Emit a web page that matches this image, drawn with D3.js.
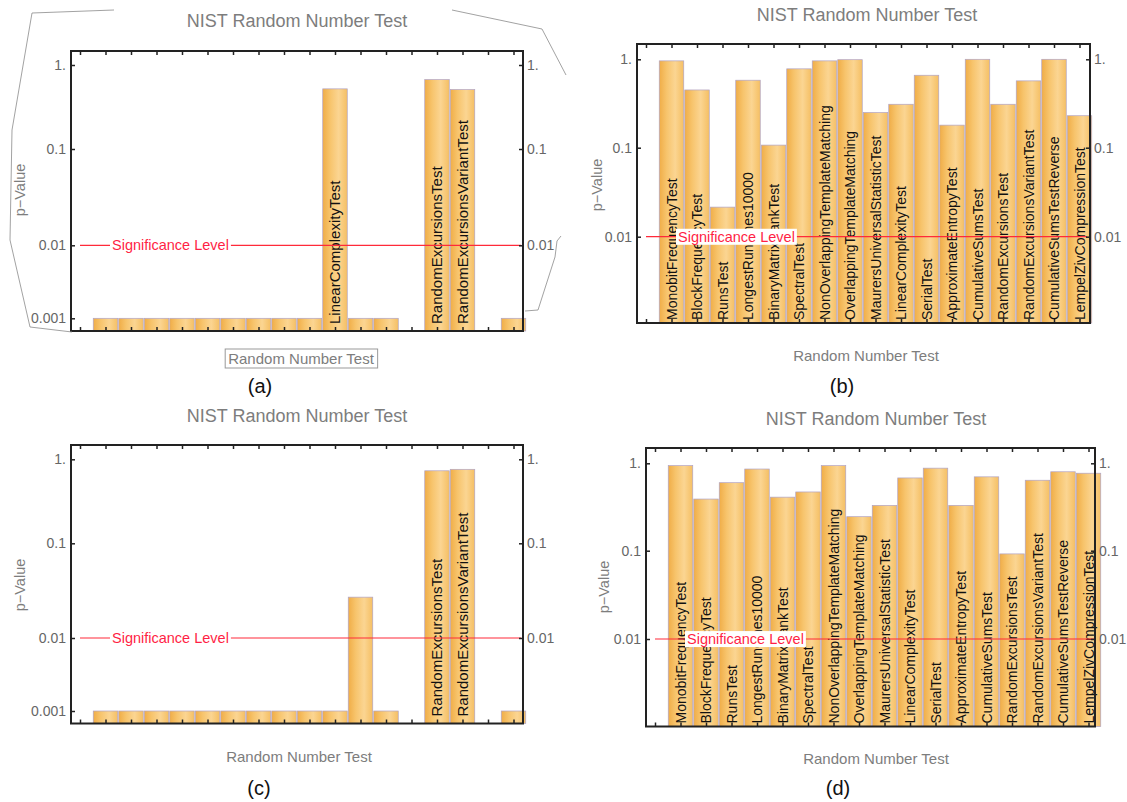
<!DOCTYPE html>
<html>
<head>
<meta charset="utf-8">
<script src="https://cdn.jsdelivr.net/npm/d3@7"></script>
<style>
  body { margin: 0; background: #fff; }
  svg { font-family: "Liberation Sans", Arial, sans-serif; }
</style>
</head>
<body>
<svg id="plate" width="1127" height="802"></svg>
<script>
// test names, same order in all four runs
var tests = ['MonobitFrequencyTest', 'BlockFrequencyTest', 'RunsTest', 'LongestRunOnes10000',
    'BinaryMatrixRankTest', 'SpectralTest', 'NonOverlappingTemplateMatching', 'OverlappingTemplateMatching',
    'MaurersUniversalStatisticTest', 'LinearComplexityTest', 'SerialTest', 'ApproximateEntropyTest',
    'CumulativeSumsTest', 'RandomExcursionsTest', 'RandomExcursionsVariantTest', 'CumulativeSumsTestReverse',
    'LempelZivCompressionTest'];

// p-values (null = no bar drawn)
var pA = [0.001, 0.001, 0.001, 0.001, 0.001, 0.001, 0.001, 0.001, 0.001, 0.52, 0.001, 0.001, null, 0.67, 0.51, null, 0.001];
var pB = [0.96, 0.45, 0.0215, 0.58, 0.107, 0.78, 0.96, 0.99, 0.25, 0.31, 0.66, 0.18, 1.0, 0.31, 0.57, 1.0, 0.23];
var pC = [0.001, 0.001, 0.001, 0.001, 0.001, 0.001, 0.001, 0.001, 0.001, 0.001, 0.027, 0.001, null, 0.73, 0.76, null, 0.001];
var pD = [0.94, 0.39, 0.60, 0.86, 0.41, 0.47, 0.94, 0.245, 0.33, 0.68, 0.88, 0.33, 0.70, 0.092, 0.64, 0.80, 0.77];

var tickValues = [1, 0.1, 0.01, 0.001];
var tickLabels = ['1.', '0.1', '0.01', '0.001'];
var significance = 0.01;

var svg = d3.select('#plate');
var step = 25.5;

// bar gradient
var grad = svg.append('defs').append('linearGradient').attr('id', 'barGrad')
    .attr('x1', 0).attr('x2', 1).attr('y1', 0).attr('y2', 0);
[['0', '#f0ad47'], ['0.3', '#f7c46c'], ['0.65', '#fbd592'], ['1', '#f5bf63']].forEach(function (s) {
    grad.append('stop').attr('offset', s[0]).attr('stop-color', s[1]);
});

// page layout of the four panels
var panels = [
    {id: 'a', p: pA, fx: [71, 523], fy: [51, 331], x0: 80, ty: [65, 149, 245.3, 318.3], nRight: 3,
        labelMin: 0.1, fs: 15, pad: 7, title: [297, 27], ylab: [20, 190], xlab: [301, 364], box: true, cap: [260, 393]},
    {id: 'b', p: pB, fx: [637, 1090], fy: [44, 323], x0: 646, ty: [59.3, 147.7, 236.7], nRight: 3,
        labelMin: 0, fs: 14, pad: 3, title: [867, 21], ylab: [597, 185], xlab: [866, 361], box: false, cap: [842, 393]},
    {id: 'c', p: pC, fx: [71, 523], fy: [445, 723.5], x0: 80, ty: [459.3, 543.3, 638, 711], nRight: 3,
        labelMin: 0.1, fs: 15, pad: 7, title: [297, 422], ylab: [20, 585], xlab: [299, 762], box: false, cap: [259, 795]},
    {id: 'd', p: pD, fx: [646, 1095], fy: [448, 726.5], x0: 655, ty: [463.3, 550.7, 639], nRight: 3,
        labelMin: 0, fs: 14, pad: 3, title: [876, 425], ylab: [604, 587], xlab: [876, 764], box: false, cap: [838, 795]}
];

// scan border lines around panel (a)
var scanEdges = [
    [[72, 332], [30, 327], [10, 240], [12, 130], [32, 13], [114, 10]],
    [[452, 10], [542, 29], [566, 75]],
    [[561, 236], [557, 241], [555, 257], [538, 310], [525, 311]]
];

function drawPanel(cfg) {
    var g = svg.append('g').attr('class', 'panel ' + cfg.id);
    var n = tests.length;
    var x = d3.scaleLinear().domain([0, n]).range([cfg.x0, cfg.x0 + step * n]);
    var y = d3.scaleLog()
        .domain(tickValues.slice(0, cfg.ty.length).reverse())
        .range(cfg.ty.slice().reverse());
    var bw = step - 1;

    var rows = cfg.p.map(function (v, i) { return {v: v, i: i, name: tests[i]}; })
        .filter(function (d) { return d.v != null; });

    // bars
    g.selectAll('rect.bar').data(rows).join('rect')
        .attr('class', 'bar')
        .attr('x', function (d) { return x(d.i + 1) - bw / 2; })
        .attr('width', bw)
        .attr('y', function (d) { return y(d.v); })
        .attr('height', function (d) { return cfg.fy[1] - y(d.v); })
        .attr('fill', 'url(#barGrad)')
        .attr('stroke', '#b0a3c6')
        .attr('stroke-width', 0.7);

    // bar labels
    g.selectAll('text.blabel').data(rows.filter(function (d) { return d.v > cfg.labelMin; })).join('text')
        .attr('class', 'blabel')
        .attr('transform', function (d) {
            return 'translate(' + (x(d.i + 1) + cfg.fs * 0.36) + ',' + (cfg.fy[1] - cfg.pad) + ') rotate(-90)';
        })
        .attr('font-size', cfg.fs)
        .attr('fill', '#111')
        .text(function (d) { return d.name; });

    // significance line
    g.append('line')
        .attr('x1', x(0)).attr('x2', Math.min(x(17.3), cfg.fx[1]))
        .attr('y1', y(significance)).attr('y2', y(significance))
        .attr('stroke', '#ff2a3a').attr('stroke-width', 1.2);
    var sx = x(0) + 30;
    var sigBox = g.append('rect').attr('fill', '#fff');
    var sig = g.append('text')
        .attr('x', sx + 2).attr('y', y(significance)).attr('dy', '0.35em')
        .attr('font-size', 14.5).attr('fill', '#ff1f45')
        .text('Significance Level');
    var bb = sig.node().getBBox();
    sigBox.attr('x', bb.x - 2).attr('y', bb.y).attr('width', bb.width + 4).attr('height', bb.height);

    // frame
    g.append('rect')
        .attr('x', cfg.fx[0]).attr('y', cfg.fy[0])
        .attr('width', cfg.fx[1] - cfg.fx[0]).attr('height', cfg.fy[1] - cfg.fy[0])
        .attr('fill', 'none').attr('stroke', '#222').attr('stroke-width', 2);

    // axes: inward ticks
    var yt = tickValues.slice(0, cfg.ty.length);
    var fmt = function (d) { return tickLabels[tickValues.indexOf(d)]; };
    var left = g.append('g').attr('transform', 'translate(' + cfg.fx[0] + ',0)')
        .call(d3.axisLeft(y).tickValues(yt).tickFormat(fmt).tickSizeInner(-4).tickSizeOuter(0).tickPadding(5));
    var right = g.append('g').attr('transform', 'translate(' + cfg.fx[1] + ',0)')
        .call(d3.axisRight(y).tickValues(yt.slice(0, cfg.nRight)).tickFormat(fmt).tickSizeInner(-4).tickSizeOuter(0).tickPadding(4));
    var top = g.append('g').attr('transform', 'translate(0,' + cfg.fy[0] + ')')
        .call(d3.axisTop(x).tickValues(d3.range(0, n + 1)).tickFormat('').tickSizeInner(-4).tickSizeOuter(0));
    var bottom = g.append('g').attr('transform', 'translate(0,' + cfg.fy[1] + ')')
        .call(d3.axisBottom(x).tickValues(d3.range(0, n + 1)).tickFormat('').tickSizeInner(-4).tickSizeOuter(0));
    [left, right, top, bottom].forEach(function (ax) {
        ax.select('.domain').remove();
        ax.selectAll('line').attr('stroke', '#222').attr('stroke-width', 1.5);
        ax.selectAll('text').attr('font-size', 14).attr('fill', '#666')
            .attr('font-family', '"Liberation Sans", Arial, sans-serif');
    });

    // title and axis labels
    g.append('text').attr('x', cfg.title[0]).attr('y', cfg.title[1])
        .attr('text-anchor', 'middle').attr('font-size', 18).attr('fill', '#7d7d7d')
        .text('NIST Random Number Test');
    g.append('text')
        .attr('transform', 'translate(' + cfg.ylab[0] + ',' + cfg.ylab[1] + ') rotate(-90)')
        .attr('text-anchor', 'middle').attr('dy', '0.35em').attr('font-size', 14.5).attr('fill', '#7d7d7d')
        .text('p\u2212Value');
    var xl = g.append('text').attr('x', cfg.xlab[0]).attr('y', cfg.xlab[1])
        .attr('text-anchor', 'middle').attr('font-size', 15).attr('fill', '#7d7d7d')
        .text('Random Number Test');
    if (cfg.box) {
        var xb = xl.node().getBBox();
        g.append('rect').attr('x', xb.x - 3).attr('y', xb.y - 1)
            .attr('width', xb.width + 6).attr('height', xb.height + 2)
            .attr('fill', 'none').attr('stroke', '#999').attr('stroke-width', 1);
    }
    g.append('text').attr('x', cfg.cap[0]).attr('y', cfg.cap[1])
        .attr('text-anchor', 'middle').attr('font-size', 20).attr('fill', '#111')
        .text('(' + cfg.id + ')');
}

panels.forEach(drawPanel);

svg.append('g').attr('class', 'scan')
    .selectAll('path').data(scanEdges).join('path')
    .attr('d', d3.line())
    .attr('fill', 'none').attr('stroke', '#8a8a8a').attr('stroke-width', 0.8);
</script>
</body>
</html>
